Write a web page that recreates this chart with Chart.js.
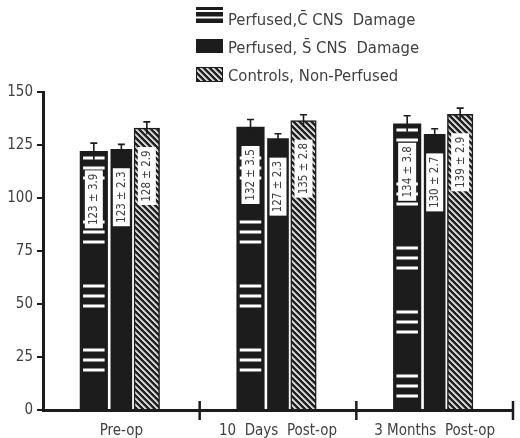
<!DOCTYPE html>
<html>
<head>
<meta charset="utf-8">
<script src="https://cdn.jsdelivr.net/npm/chart.js@4.4.1/dist/chart.umd.min.js"></script>
<style>
  html, body { margin: 0; padding: 0; background: #fff; }
  #wrap { width: 520px; height: 438px; }
</style>
</head>
<body>
<div id="wrap"><canvas id="chart"></canvas></div>
<script>
// -------------------- DATA --------------------
const categories = ["Pre-op", "10  Days  Post-op", "3 Months  Post-op"];
const seriesNames = ["Perfused,C\u0304 CNS  Damage", "Perfused, S\u0304 CNS  Damage", "Controls, Non-Perfused"];

// bar heights as drawn in the figure
const perfusedC = [122, 133.5, 135];
const perfusedS = [123, 128, 130];
const controls = [133, 136.5, 139.5];

// printed mean ± SEM inside each bar
const meanC = [123, 132, 134];
const semC = [3.9, 3.5, 3.8];
const meanS = [123, 127, 130];
const semS = [2.3, 2.3, 2.7];
const meanCtl = [128, 135, 139];
const semCtl = [2.9, 2.8, 2.9];

const yTicks = [0, 25, 50, 75, 100, 125, 150];

// -------------------- STYLE --------------------
const INK = "#1c1c1c";
const TEXT = "#404040";
const NARROW = "'DejaVu Sans Condensed', 'Liberation Sans', sans-serif";
Chart.defaults.font.family = NARROW;

// white stripe groups on the first series (px above the bar base)
const STRIPE_START = [39, 39, 13];
const STRIPE_GAP = 10;
const STRIPE_PERIOD = 64;

function makeHatch() {
  const c = document.createElement("canvas");
  c.width = 6; c.height = 6;
  const g = c.getContext("2d");
  const img = g.createImageData(6, 6);
  for (let y = 0; y < 6; y++) {
    for (let x = 0; x < 6; x++) {
      const d = (x - y + 12) % 6;
      const v = d < 2 ? 215 : (d === 2 ? 150 : 35);
      const k = (y * 6 + x) * 4;
      img.data[k] = img.data[k + 1] = img.data[k + 2] = v;
      img.data[k + 3] = 255;
    }
  }
  g.putImageData(img, 0, 0);
  return g.createPattern(c, "repeat");
}
const hatch = makeHatch();

const sems = [semC, semS, semCtl];
const means = [meanC, meanS, meanCtl];

// -------------------- PLUGINS --------------------
const barDecor = {
  id: "barDecor",
  afterDatasetsDraw(chart) {
    const { ctx, scales: { y } } = chart;
    ctx.save();

    // stripes on Perfused C
    ctx.fillStyle = "#fff";
    chart.getDatasetMeta(0).data.forEach((bar, j) => {
      const left = bar.x - bar.width / 2 + 3;
      const w = bar.width - 6;
      for (let g = 0; ; g++) {
        const gy = bar.base - STRIPE_START[j] - g * STRIPE_PERIOD;
        if (gy < bar.y) break;
        for (let k = 0; k < 3; k++) {
          const yy = gy - k * STRIPE_GAP;
          if (yy - 1.5 > bar.y + 2) ctx.fillRect(left, yy - 1.5, w, 3);
        }
      }
    });

    // error bars
    ctx.strokeStyle = INK;
    ctx.lineWidth = 1.6;
    chart.data.datasets.forEach((ds, i) => {
      chart.getDatasetMeta(i).data.forEach((bar, j) => {
        const v = ds.data[j];
        const top = y.getPixelForValue(v + sems[i][j]);
        const bot = y.getPixelForValue(v - sems[i][j]);
        ctx.beginPath();
        ctx.moveTo(bar.x, bot);
        ctx.lineTo(bar.x, top);
        ctx.moveTo(bar.x - 3.5, top);
        ctx.lineTo(bar.x + 3.5, top);
        ctx.stroke();
      });
    });

    // value boxes
    ctx.font = "11.5px " + NARROW;
    ctx.textAlign = "center";
    ctx.textBaseline = "middle";
    chart.data.datasets.forEach((ds, i) => {
      chart.getDatasetMeta(i).data.forEach((bar, j) => {
        const bw = Math.min(bar.width - 4, 18);
        const bh = 58;
        const top = bar.y + 19;
        ctx.fillStyle = "#fff";
        ctx.fillRect(bar.x - bw / 2, top, bw, bh);
        ctx.save();
        ctx.translate(bar.x + 0.5, top + bh / 2);
        ctx.rotate(-Math.PI / 2);
        ctx.fillStyle = TEXT;
        ctx.fillText(means[i][j] + " \u00b1 " + sems[i][j], 0, 0);
        ctx.restore();
      });
    });
    ctx.restore();
  },
  afterDraw(chart) {
    const { ctx, scales: { x } } = chart;
    const half = x.width / categories.length / 2;
    ctx.save();
    ctx.strokeStyle = INK;
    ctx.lineWidth = 2.5;
    categories.forEach((c, i) => {
      const px = x.getPixelForValue(i) + half;
      ctx.beginPath();
      ctx.moveTo(px, x.top - 9);
      ctx.lineTo(px, x.top + 10);
      ctx.stroke();
    });
    ctx.restore();
  }
};

const legendBlock = {
  id: "legendBlock",
  afterDraw(chart) {
    const { ctx, chartArea } = chart;
    const left = chartArea.left + 153;
    const sw = 27;
    ctx.save();
    chart.data.datasets.forEach((ds, i) => {
      const cy = 19 + i * 28;
      if (i === 0) {
        ctx.fillStyle = INK;
        ctx.fillRect(left, cy - 12, sw, 16);
        ctx.fillStyle = "#fff";
        ctx.fillRect(left, cy - 9, sw, 2);
        ctx.fillRect(left, cy - 2.5, sw, 2);
      } else if (i === 1) {
        ctx.fillStyle = INK;
        ctx.fillRect(left, cy - 8, sw, 14);
      } else {
        ctx.fillStyle = hatch;
        ctx.fillRect(left, cy - 8, sw, 15);
        ctx.strokeStyle = INK;
        ctx.lineWidth = 1;
        ctx.strokeRect(left + 0.5, cy - 7.5, sw - 1, 14);
      }
      ctx.fillStyle = TEXT;
      ctx.font = "16.5px " + NARROW;
      ctx.textAlign = "left";
      ctx.textBaseline = "middle";
      ctx.fillText(ds.label, left + 32, cy + 2);
    });
    ctx.restore();
  }
};

// -------------------- CHART --------------------
new Chart(document.getElementById("chart"), {
  type: "bar",
  data: {
    labels: categories,
    datasets: [
      { label: seriesNames[0], data: perfusedC, backgroundColor: INK, borderWidth: 0, barThickness: 27.5, maxBarThickness: 27.5 },
      { label: seriesNames[1], data: perfusedS, backgroundColor: INK, borderWidth: 0, barThickness: 23, maxBarThickness: 21 },
      { label: seriesNames[2], data: controls, backgroundColor: hatch, borderColor: INK, borderWidth: 1.5, barThickness: 25.5, maxBarThickness: 25.5 },
    ],
  },
  options: {
    responsive: true,
    maintainAspectRatio: false,
    animation: false,
    layout: { padding: { top: 92, right: 7, left: 0, bottom: 0 } },
    plugins: { legend: { display: false }, tooltip: { enabled: false } },
    scales: {
      x: {
        grid: { display: false, drawTicks: false },
        border: { display: true, color: INK, width: 3 },
        ticks: { color: TEXT, padding: 12, font: { size: 15 } },
        afterFit: (s) => { s.height = 28; },
      },
      y: {
        min: yTicks[0],
        max: yTicks[yTicks.length - 1],
        afterBuildTicks: (s) => { s.ticks = yTicks.map((v) => ({ value: v })); },
        ticks: { color: TEXT, padding: 4, font: { size: 15 } },
        grid: { drawOnChartArea: false, tickLength: 6, lineWidth: 2, color: INK },
        border: { color: INK, width: 3 },
        afterFit: (s) => { s.width = 43; },
      },
    },
  },
  plugins: [barDecor, legendBlock],
});
</script>
</body>
</html>
